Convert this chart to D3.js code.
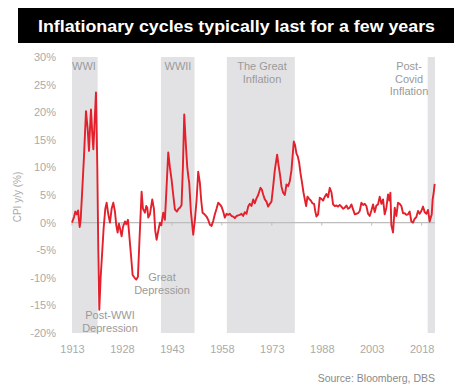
<!DOCTYPE html>
<html>
<head>
<meta charset="utf-8">
<script src="https://cdn.jsdelivr.net/npm/d3@7"></script>
<style>
  html, body { margin: 0; padding: 0; background: #fff; }
  svg { display: block; }
  text { font-family: "Liberation Sans", Arial, Helvetica, sans-serif; }
</style>
</head>
<body>
<div id="chart"></div>
<script>
// US CPI, year-on-year change (%)
const years = [
  1913.0, 1913.6, 1914.0, 1914.4, 1914.8, 1915.3, 1915.6, 1916.0, 1916.6, 1917.2,
  1917.7, 1918.1, 1918.4, 1918.7, 1919.1, 1919.4, 1919.7, 1920.2, 1920.6, 1920.9,
  1921.2, 1921.6, 1922.1, 1922.5, 1923.0, 1923.4, 1923.9, 1924.4, 1924.9, 1925.4,
  1925.9, 1926.3, 1926.7, 1927.1, 1927.4, 1927.9, 1928.3, 1928.9, 1929.3, 1929.8,
  1930.3, 1930.8, 1931.2, 1931.8, 1932.3, 1932.8, 1933.2, 1933.9, 1934.3, 1934.9,
  1935.3, 1935.6, 1935.9, 1936.4, 1937.1, 1937.6, 1938.0, 1938.4, 1938.9, 1939.4,
  1939.8, 1940.4, 1940.9, 1941.4, 1941.9, 1942.4, 1942.9, 1943.4, 1943.9, 1944.5,
  1945.0, 1945.4, 1945.9, 1946.3, 1946.7, 1947.2, 1947.6, 1948.0, 1948.2, 1948.7,
  1949.4, 1949.9, 1950.4, 1950.9, 1951.4, 1951.8, 1952.2, 1952.8, 1953.4, 1953.9,
  1954.4, 1954.9, 1955.4, 1955.9, 1956.4, 1956.9, 1957.4, 1957.9, 1958.4, 1958.9,
  1959.4, 1959.9, 1960.4, 1960.9, 1961.4, 1961.9, 1962.4, 1962.9, 1963.4, 1963.9,
  1964.4, 1964.9, 1965.4, 1965.9, 1966.4, 1966.9, 1967.4, 1967.9, 1968.4, 1968.9,
  1969.6, 1970.0, 1970.4, 1970.9, 1971.4, 1971.9, 1972.4, 1972.9, 1973.4, 1973.9,
  1974.6, 1975.0, 1975.5, 1975.9, 1976.4, 1976.9, 1977.4, 1977.9, 1978.4, 1978.9,
  1979.6, 1980.0, 1980.4, 1980.8, 1981.2, 1981.6, 1982.0, 1982.5, 1982.9, 1983.3,
  1983.7, 1984.2, 1984.7, 1985.2, 1985.7, 1986.0, 1986.4, 1986.9, 1987.4, 1987.9,
  1988.4, 1988.9, 1989.4, 1989.9, 1990.4, 1990.9, 1991.4, 1991.9, 1992.4, 1992.9,
  1993.4, 1993.9, 1994.4, 1994.9, 1995.4, 1995.9, 1996.4, 1996.9, 1997.4, 1997.9,
  1998.4, 1998.9, 1999.4, 1999.9, 2000.4, 2000.9, 2001.4, 2001.9, 2002.4, 2002.9,
  2003.4, 2003.9, 2004.4, 2004.9, 2005.4, 2005.9, 2006.4, 2006.9, 2007.4, 2007.9,
  2008.3, 2008.6, 2008.9, 2009.4, 2009.9, 2010.4, 2010.9, 2011.4, 2011.9, 2012.4,
  2012.9, 2013.4, 2013.9, 2014.4, 2014.9, 2015.4, 2015.9, 2016.4, 2016.9, 2017.4,
  2017.9, 2018.4, 2018.9, 2019.4, 2019.9, 2020.4, 2020.9, 2021.0, 2021.3, 2021.6,
  2021.9
];
const cpi = [
  0.0, 1.0, 2.0, 1.5, 2.2, -0.8, 0.5, 5.0, 12.0, 20.2,
  17.0, 13.0, 17.0, 20.5, 16.0, 13.3, 17.0, 23.6, 10.0, -5.0,
  -15.8, -10.0, -5.0, -1.0, 2.5, 3.6, 1.5, 0.0, 2.5, 3.6,
  2.0, -0.5, -1.8, -0.2, -1.0, -2.5, -0.8, 0.2, -0.3, 0.5,
  -3.0, -6.5, -9.5, -10.0, -10.3, -9.8, -4.0, 5.6, 2.5, 1.8,
  3.0, 2.7, 0.9, 1.5, 4.2, 2.5, -1.5, -3.1, -1.5, 0.0,
  -0.5, 1.8, 0.5, 6.5, 12.7, 10.0, 7.8, 5.0, 2.4, 2.0,
  2.5, 2.7, 3.2, 10.0, 19.6, 14.0, 10.1, 8.0, 7.2, 2.0,
  -2.2, 0.5, 4.0, 9.2, 7.2, 4.0, 1.8, 1.5, 1.1, 0.5,
  -0.4, -0.6, 0.3, 1.5, 2.5, 3.6, 3.3, 2.9, 2.0, 0.9,
  1.6, 1.4, 1.6, 1.2, 1.1, 0.8, 1.2, 1.3, 1.4, 1.6,
  1.2, 1.9, 1.6, 2.9, 3.4, 3.0, 4.2, 3.5, 4.4, 5.0,
  6.3, 6.0, 5.1, 4.2, 3.8, 2.9, 3.4, 3.8, 6.5, 9.5,
  12.3, 10.5, 8.5, 6.5, 5.4, 5.0, 6.9, 6.6, 7.5, 9.5,
  14.7, 14.0, 12.5, 12.0, 10.9, 9.0, 7.5, 5.5, 4.2, 3.0,
  4.7, 4.3, 4.0, 3.5, 3.4, 2.2, 1.1, 1.5, 4.5, 4.3,
  4.0, 4.7, 5.2, 4.6, 6.3, 5.5, 3.3, 3.0, 3.1, 2.9,
  3.2, 2.9, 2.5, 2.7, 3.1, 2.5, 2.7, 3.3, 2.4, 1.5,
  1.6, 1.7, 2.1, 3.6, 3.2, 3.4, 3.0, 1.6, 1.2, 2.2,
  3.3, 1.9, 3.1, 3.3, 4.7, 3.4, 4.2, 1.5, 2.7, 5.1,
  4.0, 5.4, -0.5, -1.8, 2.7, 1.2, 3.6, 3.4, 3.0, 1.7,
  1.7, 1.4, 1.5, 2.0, 0.2, 0.0, 0.7, 1.0, 2.1, 1.6,
  2.1, 2.9, 1.9, 1.6, 2.3, 0.2, 1.3, 1.4, 4.2, 5.4,
  7.0
];

// Shaded inflationary episodes: start year, end year
const bandNames = ["WWI", "WWII", "The Great Inflation", "Post-Covid Inflation"];
const bandStart = [1913.0, 1939.7, 1959.5, 2019.8];
const bandEnd   = [1920.7, 1949.8, 1979.9, 2022.0];

const xTicks = [1913, 1928, 1943, 1958, 1973, 1988, 2003, 2018];
const yTicks = [-20, -15, -10, -5, 0, 5, 10, 15, 20, 25, 30];

const W = 459, H = 387;
const x = d3.scaleLinear().domain([1913, 2022]).range([72, 435]);
const y = d3.scaleLinear().domain([-20, 30]).range([333, 57]);

const svg = d3.select("#chart").append("svg")
  .attr("width", W).attr("height", H);

// Title bar
svg.append("rect")
  .attr("x", 18).attr("y", 8).attr("width", 436).attr("height", 35)
  .attr("fill", "#000");
svg.append("text")
  .attr("x", 38).attr("y", 31.5)
  .attr("fill", "#fff")
  .attr("font-size", 16.5)
  .attr("font-weight", "bold")
  .attr("textLength", 397)
  .attr("lengthAdjust", "spacingAndGlyphs")
  .text("Inflationary cycles typically last for a few years");

// Shaded bands
svg.append("g").selectAll("rect")
  .data(bandStart)
  .join("rect")
  .attr("x", (d) => x(d))
  .attr("width", (d, i) => x(bandEnd[i]) - x(d))
  .attr("y", y(30))
  .attr("height", y(-20) - y(30))
  .attr("fill", "#e2e2e5");

// Y tick labels
svg.append("g").selectAll("text")
  .data(yTicks)
  .join("text")
  .attr("x", 56)
  .attr("y", (d) => y(d) + 4)
  .attr("text-anchor", "end")
  .attr("fill", "#aaaaaa")
  .attr("font-size", 11)
  .text((d) => d + "%");

// X axis with tick labels
const xAxis = svg.append("g")
  .attr("transform", `translate(0,${y(-20)})`)
  .call(d3.axisBottom(x).tickValues(xTicks).tickFormat(d3.format("d")).tickSize(0).tickPadding(12));
xAxis.select(".domain").remove();
xAxis.selectAll("text")
  .attr("fill", "#aaaaaa")
  .attr("font-size", 11)
  .attr("font-family", "Liberation Sans, Arial, sans-serif");

// Zero line with small ticks
svg.append("line")
  .attr("x1", x(1913)).attr("x2", x(2022))
  .attr("y1", y(0)).attr("y2", y(0))
  .attr("stroke", "#bdbdbd").attr("stroke-width", 1.2);
svg.append("g").selectAll("line")
  .data(xTicks)
  .join("line")
  .attr("x1", (d) => x(d)).attr("x2", (d) => x(d))
  .attr("y1", y(0)).attr("y2", y(0) + 3)
  .attr("stroke", "#bdbdbd");

// Y axis title
svg.append("text")
  .attr("transform", `translate(21,${197}) rotate(-90)`)
  .attr("text-anchor", "middle")
  .attr("fill", "#aaaaaa")
  .attr("font-size", 10)
  .text("CPI y/y (%)");

// CPI line
const pts = years.map((yr, i) => [yr, cpi[i]]);
svg.append("path")
  .datum(pts)
  .attr("fill", "none")
  .attr("stroke", "#e3202b")
  .attr("stroke-width", 1.9)
  .attr("stroke-linejoin", "round")
  .attr("d", d3.line().x((d) => x(d[0])).y((d) => y(d[1])));

// Annotations
const ann = svg.append("g")
  .attr("fill", "#9a9a9a")
  .attr("font-size", 11)
  .attr("text-anchor", "middle");
function label(lines, cx, top, anchor) {
  lines.forEach((t, i) => {
    ann.append("text")
      .attr("x", cx).attr("y", top + i * 12.5)
      .attr("text-anchor", anchor || "middle")
      .text(t);
  });
}
label(["WWI"], 84, 70);
label(["WWII"], 178, 70);
label(["The Great", "Inflation"], 262, 70);
label(["Post-", "Covid", "Inflation"], 409, 70);
label(["Great", "Depression"], 162, 281);
label(["Post-WWI", "Depression"], 110, 319);

// Source
svg.append("text")
  .attr("x", 435).attr("y", 382)
  .attr("text-anchor", "end")
  .attr("fill", "#8a8a8a")
  .attr("font-size", 10.5)
  .text("Source: Bloomberg, DBS");
</script>
</body>
</html>
